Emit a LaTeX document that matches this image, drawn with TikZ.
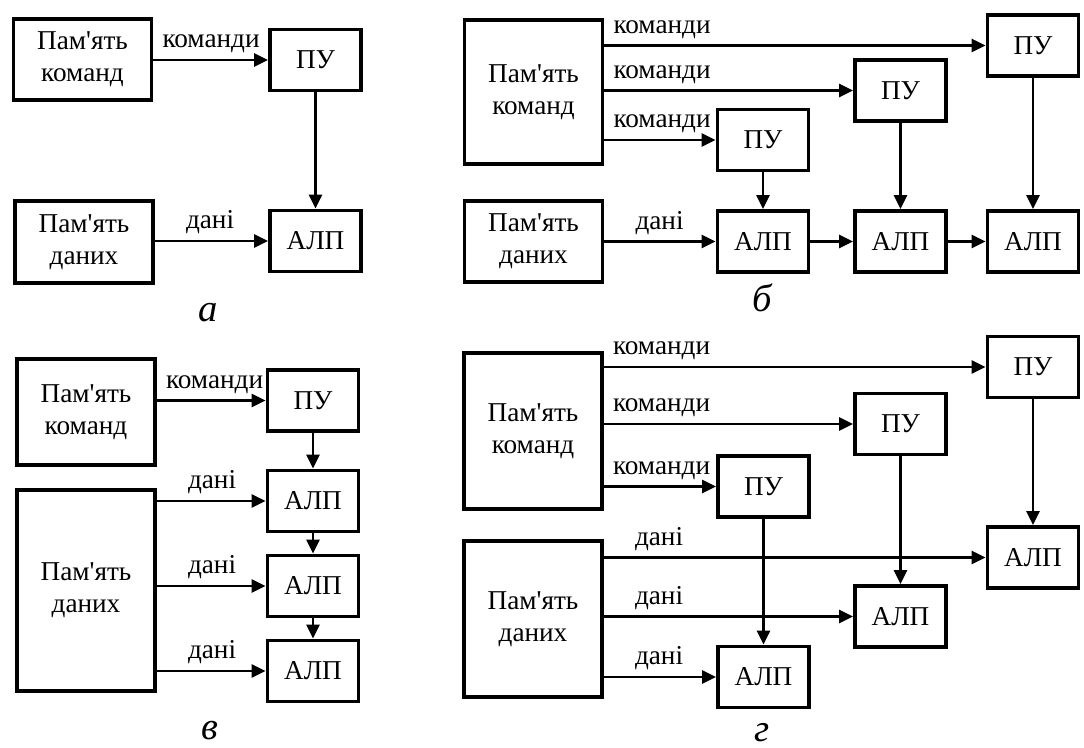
\documentclass[tikz,border=0pt]{standalone}
\usepackage{fontspec}
\setmainfont[Ligatures=TeXOff]{Liberation Serif}
\newfontfamily\ukrfont[Ligatures=TeXOff]{Liberation Serif}
\usetikzlibrary{arrows.meta}

\begin{document}
\begin{tikzpicture}[x=0.02cm, y=-0.02cm,
    every node/.style={font=\ukrfont\fontsize{15.5}{18}\selectfont},
    blk/.style={draw, line width=2.2pt, minimum width=1.82cm, minimum height=1.22cm, inner sep=0pt, align=center},
    mem/.style={blk, minimum width=2.76cm},
    arr/.style={line width=1.4pt, -{Triangle[length=0.28cm, width=0.26cm]}},
    kom/.style={above right, xshift=0.04cm},
    dan/.style={above right, xshift=0.48cm},
    fig/.style={anchor=base, font=\ukrfont\fontsize{22}{25}\selectfont\itshape}]
        \useasboundingbox (0,0) rectangle (1084,747);

        % Panel a
        \node[mem, minimum height=1.62cm] (memA) at (82.5,59.5) {Пам'ять\\команд};
        \node[mem, minimum height=1.64cm] (datA) at (84,242) {Пам'ять\\даних};
        \node[blk] (puA) at (315.5,60) {ПУ};
        \node[blk] (aluA) at (315.5,241) {АЛП};
        \draw[arr] (memA.east |- puA.west) node[kom] {команди} -- (puA.west);
        \draw[arr] (datA.east |- aluA.west) node[dan] {дані} -- (aluA.west);
        \draw[arr] (puA) -- (aluA);
        \node[fig] (capA) at (208,321) {а};

        % Panel b
        \node[mem, minimum height=2.88cm] (memB) at (533.5,92) {Пам'ять\\команд};
        \node[mem, minimum height=1.62cm] (datB) at (533.5,241.5) {Пам'ять\\даних};
        \node[blk] (puB1) at (763,140) {ПУ};
        \node[blk] (puB2) at (900.5,90.5) {ПУ};
        \node[blk] (puB3) at (1033,45.5) {ПУ};
        \node[blk] (aluB1) at (763,241.5) {АЛП};
        \node[blk] (aluB2) at (900.5,241.5) {АЛП};
        \node[blk] (aluB3) at (1033,241.5) {АЛП};
        \draw[arr] (memB.east |- puB3.west) node[kom] {команди} -- (puB3.west);
        \draw[arr] (memB.east |- puB2.west) node[kom] {команди} -- (puB2.west);
        \draw[arr] (memB.east |- puB1.west) node[kom] {команди} -- (puB1.west);
        \draw[arr] (datB.east |- aluB1.west) node[dan] {дані} -- (aluB1.west);
        \draw[arr] (puB1) -- (aluB1);
        \draw[arr] (puB2) -- (aluB2);
        \draw[arr] (puB3) -- (aluB3);
        \draw[arr] (aluB1) -- (aluB2);
        \draw[arr] (aluB2) -- (aluB3);
        \node[fig] (capB) at (762,311) {б};

        % Panel v
        \node[mem, minimum height=2.12cm] (memC) at (86,412) {Пам'ять\\команд};
        \node[mem, minimum height=4.02cm] (datC) at (86,590.5) {Пам'ять\\даних};
        \node[blk] (puC) at (313,400.5) {ПУ};
        \node[blk] (aluC1) at (313,501) {АЛП};
        \node[blk] (aluC2) at (313,586) {АЛП};
        \node[blk] (aluC3) at (313,671) {АЛП};
        \draw[arr] (memC.east |- puC.west) node[kom] {команди} -- (puC.west);
        \foreach \i in {1,2,3}
            \draw[arr] (datC.east |- aluC\i.west) node[dan] {дані} -- (aluC\i.west);
        \draw[arr] (puC) -- (aluC1);
        \draw[arr] (aluC1) -- (aluC2);
        \draw[arr] (aluC2) -- (aluC3);
        \node[fig] (capC) at (210,739) {в};

        % Panel g
        \node[mem, minimum height=3.12cm] (memD) at (533,431) {Пам'ять\\команд};
        \node[mem, minimum height=3.12cm] (datD) at (533,619) {Пам'ять\\даних};
        \node[blk] (puD1) at (763.5,486.5) {ПУ};
        \node[blk] (puD2) at (900.5,424) {ПУ};
        \node[blk] (puD3) at (1033,367) {ПУ};
        \node[blk] (aluD1) at (763.5,677) {АЛП};
        \node[blk] (aluD2) at (900.5,616.5) {АЛП};
        \node[blk] (aluD3) at (1033,557.5) {АЛП};
        \foreach \i in {1,2,3} {
            \draw[arr] (memD.east |- puD\i.west) node[kom] {команди} -- (puD\i.west);
            \draw[arr] (datD.east |- aluD\i.west) node[dan] {дані} -- (aluD\i.west);
            \draw[arr] (puD\i) -- (aluD\i);
        }
        \node[fig] (capD) at (762,741) {г};
    \end{tikzpicture}
\end{document}
